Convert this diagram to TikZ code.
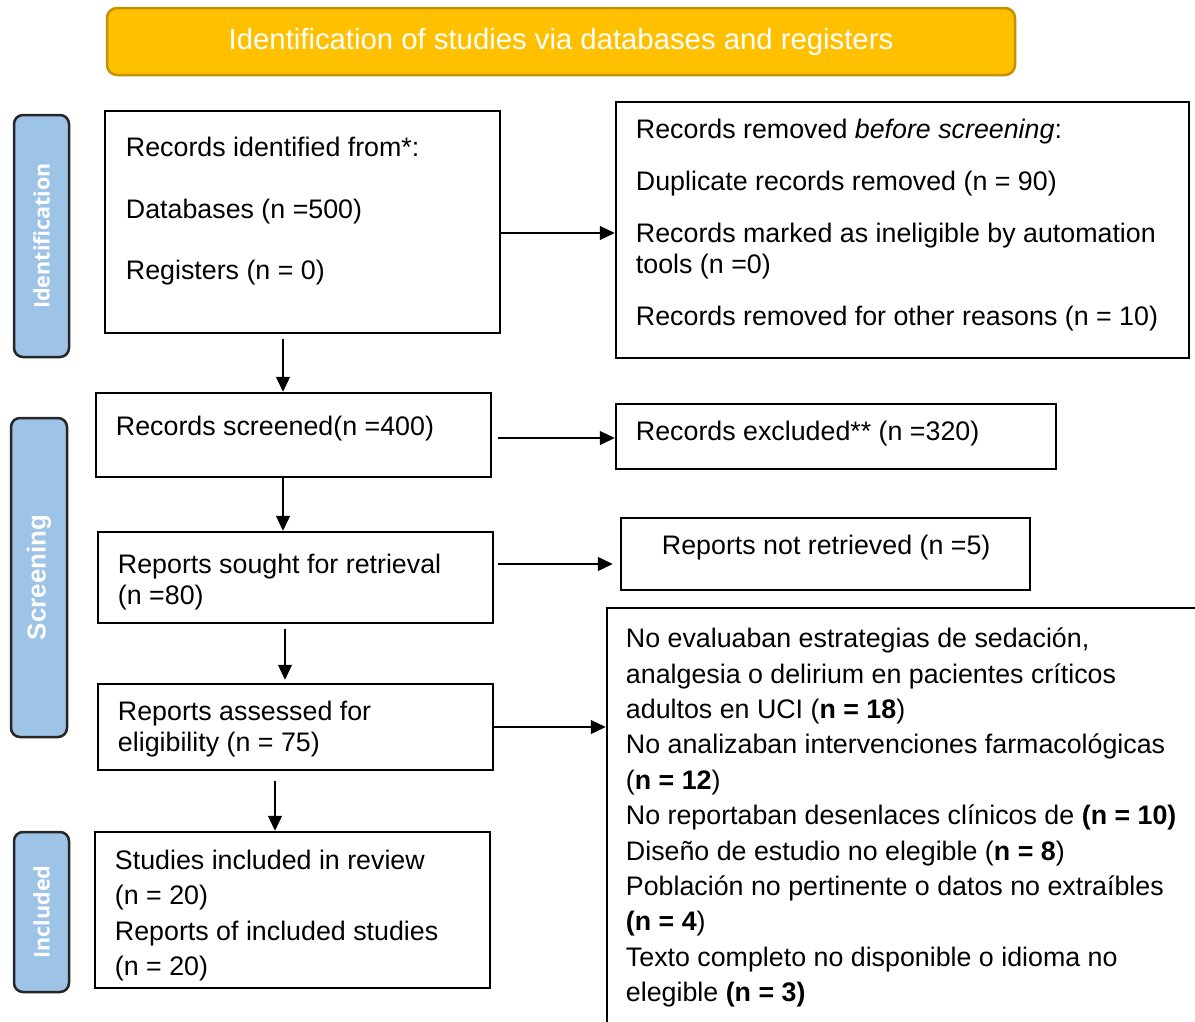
\documentclass[tikz,border=0pt]{standalone}
\usepackage{fontspec}
\setmainfont{Liberation Sans}
\newfontfamily\phasefont{Open Sans}
\usetikzlibrary{arrows.meta}

\definecolor{bannerfill}{HTML}{FFC000}
\definecolor{bannerline}{HTML}{C29200}
\definecolor{phasefill}{HTML}{9DC3E6}

\begin{document}
\begin{tikzpicture}[x=1pt,y=-1pt,
  box/.style={draw, line width=2.5pt, rectangle, inner sep=0pt},
  txt/.style={anchor=north west, align=left, inner sep=0pt, font=\fontsize{26.8}{31}\selectfont},
  widetxt/.style={txt, font=\fontsize{26.8}{35.4}\selectfont},
  phase/.style={draw=black!85, line width=2.5pt, fill=phasefill, rounded corners=9pt,
    rotate=90, text=white, inner sep=0pt, font=\phasefont\bfseries\fontsize{21.5}{21.5}\selectfont},
  arr/.style={line width=1.3pt, -{Triangle[length=15pt,width=14pt]}}]

\useasboundingbox (0,0) rectangle (1195,1021);

% banner
\node[draw=bannerline, fill=bannerfill, line width=2.5pt, rounded corners=10pt,
  minimum width=908pt, minimum height=67pt, text=white,
  font=\fontsize{29.3}{29.3}\selectfont] (banner) at (561,41.5)
  {Identification of studies via databases and registers};

% phases
\node[phase, minimum width=242pt, minimum height=55pt] (idphase) at (41.5,236) {Identification};
\node[phase, minimum width=319pt, minimum height=56pt,
  font=\bfseries\fontsize{25.9}{25.9}\selectfont] (scrphase) at (39,577.5) {Screening};
\node[phase, minimum width=160pt, minimum height=55pt] (incphase) at (41.5,912) {Included};

% boxes
\node[box, minimum width=395pt, minimum height=222pt] (ident) at (302.5,222) {};
\node[box, minimum width=573pt, minimum height=256pt] (removed) at (902.5,230) {};
\node[box, minimum width=395pt, minimum height=84pt] (screened) at (293.5,435) {};
\node[box, minimum width=440pt, minimum height=65pt] (excluded) at (836,436.5) {};
\node[box, minimum width=395pt, minimum height=91pt] (sought) at (295.5,577.5) {};
\node[box, minimum width=409pt, minimum height=72pt] (notretr) at (825.5,554) {};
\node[box, minimum width=395pt, minimum height=86pt] (assessed) at (295.5,727) {};
\node[box, minimum width=600pt, minimum height=432pt] (reasons) at (907,824) {};
\node[box, minimum width=395pt, minimum height=156pt] (included) at (292.5,910) {};

% texts
\node[txt] (ident-t) at ([shift={(22pt,-27.5pt)}]ident.north west)
  {Records identified from*:\\[30.5pt]Databases (n =500)\\[30.5pt]Registers (n = 0)};
\node[txt] (removed-t) at ([shift={(21pt,-18.5pt)}]removed.north west)
  {Records removed \textit{before screening}:\\[21pt]
   Duplicate records removed (n = 90)\\[21pt]
   Records marked as ineligible by automation\\
   tools (n =0)\\[21pt]
   Records removed for other reasons (n = 10)};
\node[txt] (screened-t) at ([shift={(21pt,-24.5pt)}]screened.north west) {Records screened(n =400)};
\node[txt] (excluded-t) at ([shift={(21pt,-18.5pt)}]excluded.north west) {Records excluded** (n =320)};
\node[txt] (sought-t) at ([shift={(21pt,-23.5pt)}]sought.north west) {Reports sought for retrieval\\(n =80)};
\node[txt] (notretr-t) at ([shift={(42pt,-18.5pt)}]notretr.north west) {Reports not retrieved (n =5)};
\node[txt] (assessed-t) at ([shift={(21pt,-18.5pt)}]assessed.north west) {Reports assessed for\\eligibility (n = 75)};
\node[widetxt] (reasons-t) at ([shift={(20pt,-21pt)}]reasons.north west)
  {No evaluaban estrategias de sedación,\\
   analgesia o delirium en pacientes críticos\\
   adultos en UCI (\textbf{n = 18})\\
   No analizaban intervenciones farmacológicas\\
   (\textbf{n = 12})\\
   No reportaban desenlaces clínicos de \textbf{(n = 10)}\\
   Diseño de estudio no elegible (\textbf{n = 8})\\
   Población no pertinente o datos no extraíbles\\
   \textbf{(n = 4})\\
   Texto completo no disponible o idioma no\\
   elegible \textbf{(n = 3)}};
\node[widetxt] (included-t) at ([shift={(21pt,-19pt)}]included.north west)
  {Studies included in review\\(n = 20)\\Reports of included studies\\(n = 20)};

% arrows
\draw[arr] ([yshift=-11pt]ident.east) -- ([yshift=-3pt]removed.west);
\draw[arr] ([xshift=-19.5pt,yshift=-5pt]ident.south) -- ([xshift=-10.5pt]screened.north);
\draw[arr] ([xshift=6pt,yshift=-3pt]screened.east) -- ([yshift=-1.5pt]excluded.west);
\draw[arr] ([xshift=-10.5pt]screened.south) -- ([xshift=-12.5pt]sought.north);
\draw[arr] ([xshift=4pt,yshift=13.5pt]sought.east) -- ([xshift=-7pt,yshift=-10pt]notretr.west);
\draw[arr] ([xshift=-10.5pt,yshift=-5pt]sought.south) -- ([xshift=-10.5pt,yshift=3pt]assessed.north);
\draw[arr] (assessed.east) -- (assessed.east -| reasons.west);
\draw[arr] ([xshift=-20.5pt,yshift=-10pt]assessed.south) -- ([xshift=-17.5pt]included.north);

\end{tikzpicture}
\end{document}
